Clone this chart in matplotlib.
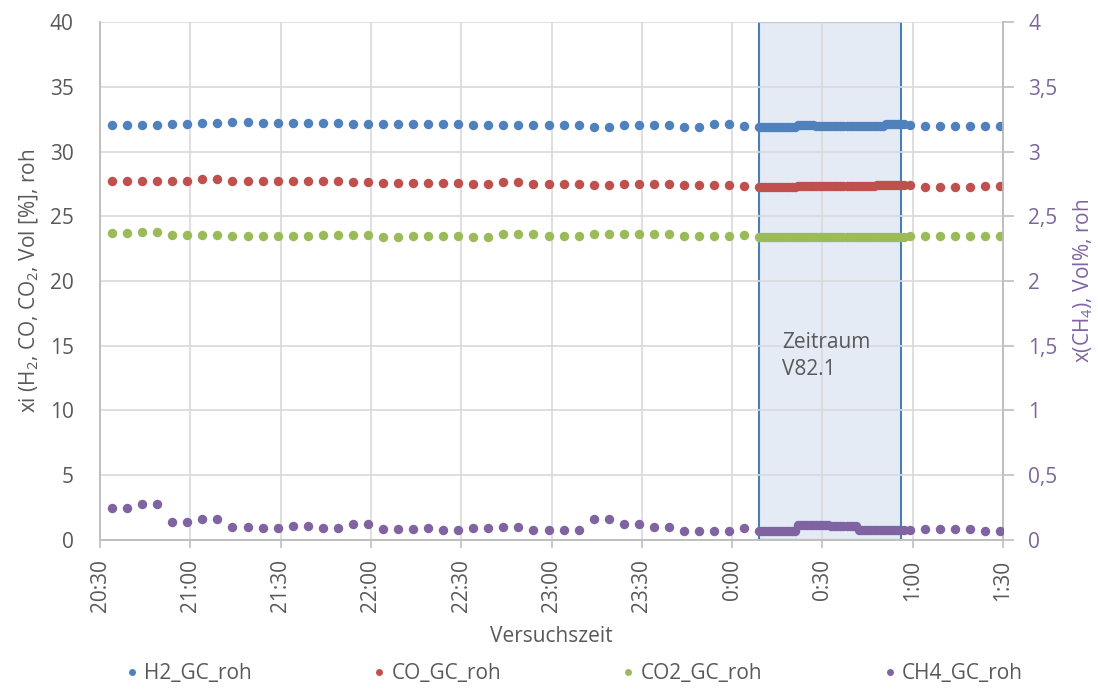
import numpy as np
import matplotlib
matplotlib.use("Agg")
import matplotlib.pyplot as plt
import pandas as pd
from matplotlib.lines import Line2D

plt.rcParams['font.family'] = ['Open Sans', 'DejaVu Sans']
plt.rcParams['mathtext.fontset'] = 'custom'
plt.rcParams['mathtext.rm'] = 'Open Sans'
plt.rcParams['mathtext.default'] = 'rm'

# Messzeitpunkte: 5-min-Raster vor/nach dem Zeitraum, 1-min-Raster im Zeitraum V82.1
t_before = pd.date_range("2020-01-01 20:34", periods=43, freq="5min")
t_dense = pd.date_range("2020-01-02 00:09", "2020-01-02 00:57", freq="1min")
t_after = pd.date_range("2020-01-02 00:59", periods=7, freq="5min")

h2_before = [32.05, 32.07, 32.05, 32.05, 32.12, 32.12, 32.20, 32.22, 32.28, 32.28,
             32.20, 32.20, 32.20, 32.20, 32.20, 32.20, 32.12, 32.12, 32.12, 32.12,
             32.12, 32.12, 32.12, 32.12, 32.05, 32.05, 32.05, 32.05, 32.05, 32.05,
             32.05, 32.05, 31.87, 31.87, 32.05, 32.05, 32.05, 32.05, 31.92, 31.92,
             32.12, 32.12, 31.97]
h2_dense = [31.90] * 13 + [32.05] * 6 + [32.00] * 23 + [32.10] * 7
h2_after = [32.05, 31.97, 31.97, 31.97, 31.97, 31.97, 31.97]

co_before = [27.75, 27.75, 27.75, 27.75, 27.75, 27.75, 27.85, 27.85, 27.75, 27.75,
             27.75, 27.75, 27.75, 27.75, 27.75, 27.75, 27.67, 27.67, 27.60, 27.60,
             27.60, 27.60, 27.60, 27.60, 27.49, 27.49, 27.67, 27.67, 27.49, 27.49,
             27.49, 27.49, 27.41, 27.41, 27.49, 27.49, 27.49, 27.49, 27.41, 27.41,
             27.41, 27.41, 27.33]
co_dense = [27.25] * 13 + [27.33] * 26 + [27.45] * 10
co_after = [27.41, 27.25, 27.25, 27.25, 27.25, 27.33, 27.33]

co2_before = [23.73, 23.73, 23.81, 23.81, 23.55, 23.55, 23.55, 23.55, 23.48, 23.48,
              23.48, 23.48, 23.48, 23.48, 23.55, 23.55, 23.55, 23.55, 23.42, 23.42,
              23.48, 23.48, 23.48, 23.48, 23.38, 23.38, 23.63, 23.63, 23.63, 23.48,
              23.48, 23.48, 23.63, 23.63, 23.63, 23.63, 23.63, 23.63, 23.48, 23.48,
              23.48, 23.48, 23.55]
co2_dense = [23.43] * 49
co2_after = [23.48, 23.48, 23.48, 23.48, 23.48, 23.48, 23.48]

ch4_before = [0.245, 0.245, 0.276, 0.276, 0.142, 0.142, 0.165, 0.165, 0.098, 0.098,
              0.090, 0.090, 0.108, 0.108, 0.090, 0.090, 0.124, 0.124, 0.082, 0.082,
              0.082, 0.090, 0.077, 0.077, 0.090, 0.090, 0.098, 0.098, 0.077, 0.077,
              0.077, 0.077, 0.160, 0.160, 0.124, 0.124, 0.098, 0.098, 0.069, 0.069,
              0.069, 0.069, 0.090]
ch4_dense = [0.072] * 13 + [0.115] * 11 + [0.105] * 9 + [0.077] * 16
ch4_after = [0.077, 0.085, 0.085, 0.085, 0.085, 0.069, 0.069]

series_names = ["H2_GC_roh", "CO_GC_roh", "CO2_GC_roh", "CH4_GC_roh"]
series_colors = ["#4F81BD", "#C0504D", "#9BBB59", "#8064A2"]

x_ticks = pd.date_range("2020-01-01 20:30", "2020-01-02 01:30", freq="30min")
x_tick_labels = ["20:30", "21:00", "21:30", "22:00", "22:30", "23:00",
                 "23:30", "0:00", "0:30", "1:00", "1:30"]
left_ticks = [0, 5, 10, 15, 20, 25, 30, 35, 40]
right_ticks = [0, 0.5, 1, 1.5, 2, 2.5, 3, 3.5, 4]
right_tick_labels = ["0", "0,5", "1", "1,5", "2", "2,5", "3", "3,5", "4"]

span_start = pd.Timestamp("2020-01-02 00:09")
span_end = pd.Timestamp("2020-01-02 00:56")

times = t_before.append(t_dense).append(t_after)
h2 = h2_before + h2_dense + h2_after
co = co_before + co_dense + co_after
co2 = co2_before + co2_dense + co2_after
ch4 = ch4_before + ch4_dense + ch4_after

text_grey = "#595959"
grid_grey = "#D9D9D9"
axis_grey = "#BFBFBF"
purple_text = "#7B679C"
fs = 15

fig = plt.figure(figsize=(10.98, 6.89), dpi=100)
ax = fig.add_axes([0.0911, 0.2163, 0.8224, 0.7517])
ax2 = ax.twinx()

ax.axvspan(span_start, span_end, facecolor="#E4EBF5", edgecolor="#4A7EBB",
           linewidth=1.5, zorder=0.3)
ax.text(pd.Timestamp("2020-01-02 00:16:30"), 14.2, "Zeitraum\nV82.1",
        fontsize=fs, color=text_grey, va="center", ha="left", linespacing=1.35)

ms = 6.8
for vals, col in zip([h2, co, co2], series_colors[:3]):
    ax.plot(times, vals, linestyle="none", marker="o", markersize=ms,
            markeredgewidth=0, color=col, zorder=3)
ax2.plot(times, ch4, linestyle="none", marker="o", markersize=ms,
         markeredgewidth=0, color=series_colors[3], zorder=3)

ax.set_xlim(pd.Timestamp("2020-01-01 20:30"), pd.Timestamp("2020-01-02 01:30"))
ax.set_ylim(0, 40)
ax2.set_ylim(0, 4)

ax.set_xticks(x_ticks)
ax.set_xticklabels(x_tick_labels, rotation=90)
ax.set_yticks(left_ticks)
ax2.set_yticks(right_ticks)
ax2.set_yticklabels(right_tick_labels)

ax.set_axisbelow(True)
ax.grid(True, color=grid_grey, linewidth=1.2)

for a in (ax, ax2):
    a.spines["top"].set_visible(False)
    for side in ("left", "right", "bottom"):
        a.spines[side].set_color(axis_grey)
        a.spines[side].set_linewidth(1.2)

ax.tick_params(axis="x", colors=axis_grey, length=6, width=1.2,
               labelcolor=text_grey, labelsize=fs, pad=8)
ax.tick_params(axis="y", length=0, labelcolor=text_grey, labelsize=fs, pad=19)
ax2.tick_params(axis="y", colors=axis_grey, length=8, width=1.2,
                labelcolor=purple_text, labelsize=fs, pad=10)

ax.set_xlabel("Versuchszeit", fontsize=fs, color=text_grey, labelpad=10)
ax.set_ylabel("xi (H$_2$, CO, CO$_2$, Vol [%], roh", fontsize=fs,
              color=text_grey, labelpad=6)
ax2.set_ylabel("x(CH$_4$), Vol%, roh", fontsize=fs, color=series_colors[3],
               labelpad=10)

handles = [Line2D([], [], linestyle="none", marker="o", markersize=5,
                  markeredgewidth=0, color=c) for c in series_colors]
fig.legend(handles, series_names, loc="center", bbox_to_anchor=(0.523, 0.022),
           ncol=4, frameon=False, fontsize=fs, labelcolor=text_grey,
           handlelength=0.6, handletextpad=0.3, columnspacing=5.8)

fig.savefig("out.png", dpi=100)
